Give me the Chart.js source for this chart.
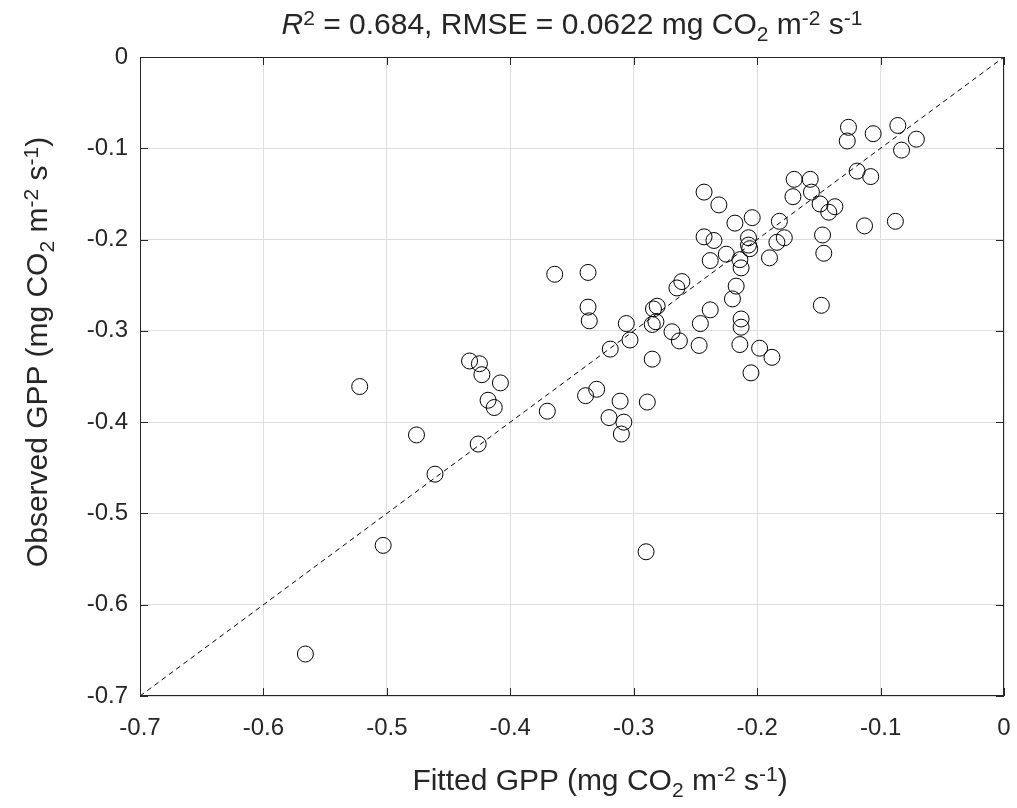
<!DOCTYPE html>
<html>
<head>
<meta charset="utf-8">
<script src="https://cdn.jsdelivr.net/npm/chart.js@4.4.1/dist/chart.umd.min.js"></script>
<style>
  body { margin: 0; background: #fff; }
  #wrap { position: relative; width: 1017px; height: 808px; font-family: "Liberation Sans", Arial, sans-serif; color: #262626; }
  .lbl { position: absolute; font-size: 30px; line-height: 1; white-space: nowrap; }
  .sup { position: relative; top: -0.45em; font-size: 0.7em; }
  .sub { position: relative; top: 0.35em; font-size: 0.7em; }
</style>
</head>
<body>
<div id="wrap">
  <canvas id="gpp"></canvas>
  <div class="lbl" id="title" style="left:140px; width:864px; top:9px; text-align:center;"><i>R</i><span class="sup">2</span> = 0.684, RMSE = 0.0622 mg CO<span class="sub">2</span> m<span class="sup">-2</span> s<span class="sup">-1</span></div>
  <div class="lbl" id="xlab" style="left:168px; width:864px; top:765px; text-align:center;">Fitted GPP (mg CO<span class="sub">2</span> m<span class="sup">-2</span> s<span class="sup">-1</span>)</div>
  <div class="lbl" id="ylab" style="left:37px; top:352px; width:700px; text-align:center; transform:translate(-50%,-50%) rotate(-90deg);">Observed GPP (mg CO<span class="sub">2</span> m<span class="sup">-2</span> s<span class="sup">-1</span>)</div>
</div>
<script>
const fittedGPP = [
  -0.566, -0.503, -0.522, -0.476, -0.461, -0.433, -0.425, -0.423, -0.408, -0.418, -0.413, -0.426,
  -0.364, -0.337, -0.337, -0.336, -0.306, -0.303, -0.319, -0.285, -0.330, -0.339, -0.370, -0.311,
  -0.289, -0.320, -0.308, -0.310, -0.290, -0.284, -0.281, -0.285, -0.282, -0.269, -0.263, -0.261,
  -0.265, -0.243, -0.231, -0.218, -0.204, -0.243, -0.235, -0.207, -0.207, -0.206, -0.225, -0.238,
  -0.214, -0.213, -0.190, -0.182, -0.184, -0.178, -0.217, -0.220, -0.238, -0.246, -0.213, -0.213,
  -0.247, -0.214, -0.198, -0.188, -0.205, -0.126, -0.127, -0.106, -0.086, -0.071, -0.083, -0.119,
  -0.108, -0.170, -0.157, -0.171, -0.156, -0.149, -0.137, -0.142, -0.113, -0.088, -0.147, -0.146,
  -0.148
];
const observedGPP = [
  -0.654, -0.535, -0.361, -0.414, -0.457, -0.333, -0.336, -0.348, -0.357, -0.376, -0.384, -0.424,
  -0.238, -0.236, -0.274, -0.289, -0.292, -0.310, -0.320, -0.331, -0.364, -0.371, -0.388, -0.377,
  -0.378, -0.395, -0.400, -0.413, -0.542, -0.276, -0.273, -0.293, -0.290, -0.301, -0.311, -0.246,
  -0.253, -0.148, -0.162, -0.182, -0.176, -0.197, -0.201, -0.198, -0.206, -0.210, -0.216, -0.223,
  -0.222, -0.231, -0.220, -0.180, -0.203, -0.198, -0.251, -0.265, -0.277, -0.292, -0.287, -0.296,
  -0.316, -0.315, -0.319, -0.329, -0.346, -0.077, -0.092, -0.084, -0.075, -0.090, -0.102, -0.125,
  -0.131, -0.134, -0.134, -0.153, -0.148, -0.161, -0.164, -0.170, -0.185, -0.180, -0.195, -0.215,
  -0.272
];
const oneToOne = [-0.7, 0];
const axisTicks = [-0.7, -0.6, -0.5, -0.4, -0.3, -0.2, -0.1, 0];

const points = fittedGPP.map((x, i) => ({ x: x, y: observedGPP[i] }));
const linePts = oneToOne.map(v => ({ x: v, y: v }));

// box around the axes plus inward tick marks (matlab look)
const boxPlugin = {
  id: 'box',
  afterDraw(chart) {
    const { ctx, chartArea: a, scales } = chart;
    ctx.save();
    ctx.strokeStyle = '#262626';
    ctx.lineWidth = 1;
    ctx.strokeRect(a.left + 0.5, a.top + 0.5, a.right - a.left - 1, a.bottom - a.top - 1);
    ctx.beginPath();
    axisTicks.forEach(t => {
      const px = Math.round(scales.x.getPixelForValue(t)) + 0.5;
      const py = Math.round(scales.y.getPixelForValue(t)) + 0.5;
      ctx.moveTo(px, a.bottom); ctx.lineTo(px, a.bottom - 8);
      ctx.moveTo(px, a.top); ctx.lineTo(px, a.top + 8);
      ctx.moveTo(a.left, py); ctx.lineTo(a.left + 8, py);
      ctx.moveTo(a.right, py); ctx.lineTo(a.right - 8, py);
    });
    ctx.stroke();
    ctx.restore();
  }
};

const fmt = v => (Math.abs(v) < 1e-9 ? '0' : v.toFixed(1));

new Chart(document.getElementById('gpp'), {
  type: 'scatter',
  data: {
    datasets: [
      {
        label: 'GPP',
        data: points,
        pointStyle: 'circle',
        pointRadius: 8,
        pointHoverRadius: 8,
        borderColor: '#000',
        borderWidth: 1,
        backgroundColor: 'rgba(0,0,0,0)'
      },
      {
        label: '1:1',
        data: linePts,
        showLine: true,
        borderColor: '#000',
        borderWidth: 1,
        borderDash: [5, 4],
        pointRadius: 0
      }
    ]
  },
  options: {
    responsive: true,
    maintainAspectRatio: false,
    animation: false,
    layout: { padding: { top: 57, right: 13, left: 0, bottom: 0 } },
    plugins: {
      legend: { display: false },
      tooltip: { enabled: false }
    },
    scales: {
      x: {
        type: 'linear',
        min: -0.7,
        max: 0,
        afterFit: s => { s.height = 112; s.paddingLeft = 0; s.paddingRight = 0; },
        grid: { color: '#dedede', drawTicks: false },
        border: { display: false },
        ticks: {
          stepSize: 0.1,
          padding: 18,
          color: '#262626',
          font: { family: '"Liberation Sans", Arial', size: 24 },
          callback: fmt
        }
      },
      y: {
        type: 'linear',
        min: -0.7,
        max: 0,
        afterFit: s => { s.width = 140; s.paddingTop = 0; s.paddingBottom = 0; },
        grid: { color: '#dedede', drawTicks: false },
        border: { display: false },
        ticks: {
          stepSize: 0.1,
          padding: 12,
          color: '#262626',
          font: { family: '"Liberation Sans", Arial', size: 24 },
          callback: fmt
        }
      }
    }
  },
  plugins: [boxPlugin]
});
</script>
</body>
</html>
